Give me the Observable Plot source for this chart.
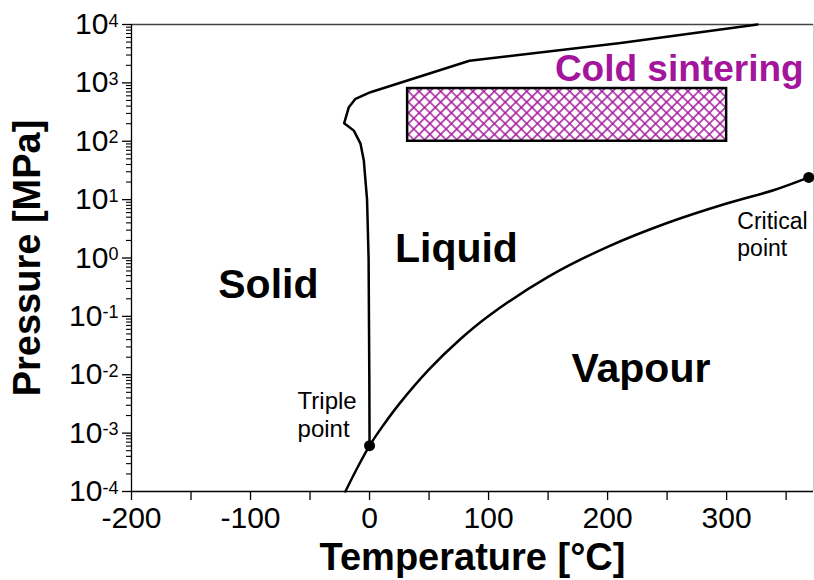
<!DOCTYPE html>
<html>
<head>
<meta charset="utf-8">
<script src="https://cdn.jsdelivr.net/npm/d3@7"></script>
<script src="https://cdn.jsdelivr.net/npm/@observablehq/plot@0.6"></script>
<style>
  html, body { margin: 0; padding: 0; background: white; }
  #chart { width: 814px; height: 580px; }
</style>
</head>
<body>
<div id="chart"></div>
<script>
// Melting curve (solid / liquid boundary), temperature °C and pressure MPa
const meltT = [0.01, -0.2, -0.8, -2.1, -3.4, -4.8, -7.6, -13.2, -21.3, -17.4, -11.8, 0.8, 84, 211, 326];
const meltP = [6.1e-4, 0.01, 1, 10, 21, 46.7, 91, 152, 204, 383, 533, 692, 2390, 4800, 10000];

// Sublimation + vaporisation curve
const vapT = [-20.3, -10, 0.01, 10, 25, 50, 75, 100, 150, 200, 250, 300, 340, 369];
const vapP = [1.0e-4, 2.6e-4, 6.1e-4, 1.23e-3, 3.17e-3, 1.235e-2, 3.86e-2, 0.1013, 0.476, 1.554, 3.98, 8.59, 14.6, 24];

// Special points
const pointNames = ["Triple point", "Critical point"];
const pointT = [0.01, 369];
const pointP = [6.1e-4, 24];

// Cold sintering window
const sinterT = [32, 300];
const sinterP = [100, 800];

// Ticks
const xTicks = [-200, -150, -100, -50, 0, 50, 100, 150, 200, 250, 300, 350];
const yMajor = [1e-4, 1e-3, 1e-2, 1e-1, 1, 10, 100, 1000, 10000];
const yMinor = [];
for (let e = -4; e < 4; e++) for (let m = 2; m <= 9; m++) yMinor.push(m * Math.pow(10, e));

// Region labels
const regionNames = ["Solid", "Liquid", "Vapour"];
const regionT = [-85, 73, 228];
const regionP = [0.34, 1.45, 0.0126];

const melt = meltT.map((t, i) => ({T: t, P: meltP[i]}));
const vap = vapT.map((t, i) => ({T: t, P: vapP[i]}));
const pts = pointT.map((t, i) => ({T: t, P: pointP[i], name: pointNames[i]}));
const regions = regionNames.map((n, i) => ({T: regionT[i], P: regionP[i], name: n}));

const magenta = "#a3169c";
const font = "'Liberation Sans', Arial, sans-serif";

const chart = Plot.plot({
  width: 814,
  height: 580,
  marginLeft: 131,
  marginRight: 1,
  marginTop: 24,
  marginBottom: 89,
  x: {domain: [-200, 373]},
  y: {type: "log", domain: [1e-4, 1e4]},
  style: {fontFamily: font, fontSize: "30px", color: "black", background: "white", overflow: "visible"},
  marks: [
    Plot.ruleY([1e4], {stroke: "#444", strokeWidth: 1.5}),
    Plot.ruleX([373], {stroke: "#ccc", strokeWidth: 1}),
    Plot.rect([{x1: sinterT[0], x2: sinterT[1], y1: sinterP[0], y2: sinterP[1]}],
      {x1: "x1", x2: "x2", y1: "y1", y2: "y2", fill: "url(#xh)", stroke: "black", strokeWidth: 2.5, ariaLabel: "coldrect"}),
    Plot.line(melt, {x: "T", y: "P", stroke: "black", strokeWidth: 2.5, curve: "linear"}),
    Plot.line(vap, {x: "T", y: "P", stroke: "black", strokeWidth: 2.5, curve: "catmull-rom"}),
    Plot.dot(pts, {x: "T", y: "P", r: 5.5, fill: "black"}),
    Plot.text(regions, {x: "T", y: "P", text: "name", fontSize: 41, fontWeight: "bold", fill: "black"}),
    Plot.text(["Triple\npoint"], {x: -60.5, y: 2.15e-3, textAnchor: "start", fontSize: 24, lineHeight: 1.2, fill: "black"}),
    Plot.text(["Critical\npoint"], {x: 309, y: 2.62, textAnchor: "start", fontSize: 23, lineHeight: 1.2, fill: "black"}),
    Plot.text(["Cold sintering"], {x: 364.7, y: 1690, textAnchor: "end", fontSize: 37, fontWeight: "bold", fill: magenta}),
    Plot.ruleX([-200], {stroke: "black", strokeWidth: 1.3}),
    Plot.ruleY([1e-4], {stroke: "black", strokeWidth: 1.3}),
    Plot.axisX(xTicks, {tickSize: 9, tickPadding: 6, strokeWidth: 1.3, fontSize: 30,
      tickFormat: d => (d % 100 === 0 ? `${d}` : ""), label: null}),
    Plot.axisY(yMajor, {tickSize: 9, tickPadding: 4, strokeWidth: 1.3, fontSize: 30,
      tickFormat: d => "10^" + Math.round(Math.log10(d)), label: null}),
    Plot.axisY(yMinor, {tickSize: 5, strokeWidth: 1.1, tickFormat: () => "", label: null}),
    Plot.text(["Temperature [°C]"], {frameAnchor: "bottom", lineAnchor: "middle", textAnchor: "middle", dy: 66, fontSize: 38, fontWeight: "bold", fill: "black"}),
    Plot.text(["Pressure [MPa]"], {frameAnchor: "left", lineAnchor: "middle", textAnchor: "middle", dx: -104, rotate: -90, fontSize: 38, fontWeight: "bold", fill: "black"})
  ]
});

// Cross-hatch pattern for the cold sintering window
const ns = "http://www.w3.org/2000/svg";
const defs = document.createElementNS(ns, "defs");
const pat = document.createElementNS(ns, "pattern");
const s = 7.6;
pat.setAttribute("id", "xh");
pat.setAttribute("patternUnits", "userSpaceOnUse");
pat.setAttribute("width", s);
pat.setAttribute("height", s);
pat.setAttribute("patternTransform", "rotate(45)");
const bg = document.createElementNS(ns, "rect");
bg.setAttribute("width", s);
bg.setAttribute("height", s);
bg.setAttribute("fill", "white");
const hp = document.createElementNS(ns, "path");
hp.setAttribute("d", `M0,${s / 2}H${s}M${s / 2},0V${s}`);
hp.setAttribute("stroke", magenta);
hp.setAttribute("stroke-width", "1.5");
hp.setAttribute("fill", "none");
pat.appendChild(bg);
pat.appendChild(hp);
defs.appendChild(pat);
chart.insertBefore(defs, chart.firstChild);

// Superscript exponents on the y tick labels
d3.select(chart).selectAll("text").each(function () {
  const t = this.textContent;
  const m = /^10\^(-?\d+)$/.exec(t);
  if (!m) return;
  const el = d3.select(this);
  el.text(null);
  el.append("tspan").text("10");
  el.append("tspan").attr("dy", "-0.42em").attr("font-size", "0.6em").text(m[1]);
});

document.getElementById("chart").appendChild(chart);
</script>
</body>
</html>
